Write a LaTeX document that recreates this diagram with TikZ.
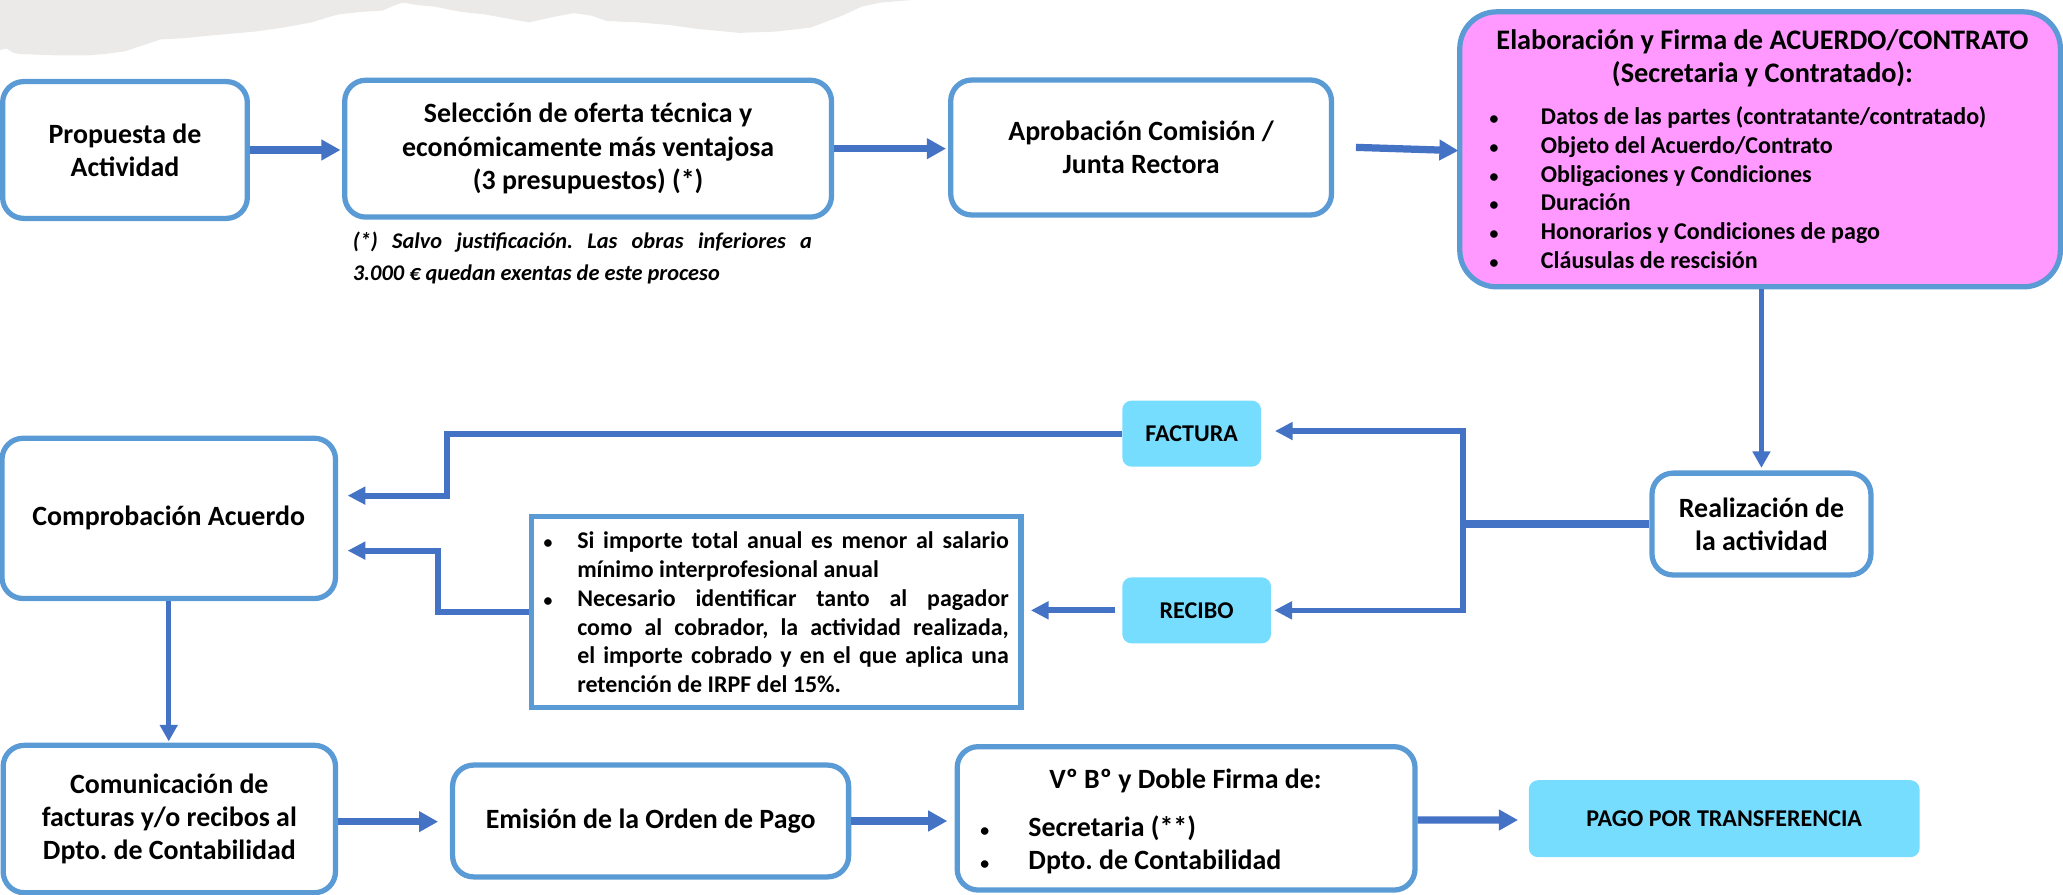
\documentclass[tikz,border=0pt]{standalone}
\usepackage{fontspec}
\setmainfont{Carlito}
\usetikzlibrary{arrows.meta}
\definecolor{arrowblue}{HTML}{4472C4}
\definecolor{boxblue}{HTML}{5B9BD5}
\definecolor{pinkfill}{HTML}{FF99FF}
\definecolor{cyanfill}{HTML}{77DDFF}
\definecolor{paper}{HTML}{EBEAE8}
\frenchspacing
\newcommand\fmain{\bfseries\fontsize{21.2}{25.3}\selectfont}
\newcommand\ftitle{\bfseries\fontsize{21.5}{25.3}\selectfont}
\newcommand\flist{\bfseries\fontsize{18.3}{21.8}\selectfont}
\newcommand\fnote{\bfseries\fontsize{18.2}{22}\selectfont}
\newcommand\ffoot{\bfseries\itshape\fontsize{17}{24}\selectfont}
\newcommand\fsmall{\bfseries\fontsize{18.3}{20}\selectfont}
\newcommand\bul[1]{\makebox[#1][l]{\fontsize{13.5}{13.5}\selectfont•}}
\begin{document}
\begin{tikzpicture}[x=1pt,y=-1pt,
  box/.style={draw=boxblue, line width=4pt, rounded corners=16pt, fill=white, inner sep=0pt, align=center, font=\fmain},
  tag/.style={fill=cyanfill, rounded corners=7pt, inner sep=0pt, align=center, font=\fsmall},
  txt/.style={inner sep=0pt},
  arr/.style={draw=arrowblue, line width=5.5pt, -{Triangle[length=14.5pt,width=15pt]}},
  carr/.style={draw=arrowblue, line width=4.5pt, -{Triangle[length=13.5pt,width=13pt]}},
  varr/.style={draw=arrowblue, line width=3.8pt, -{Triangle[length=12.5pt,width=13pt]}},
  plain/.style={draw=arrowblue, line width=5.5pt}]
\useasboundingbox (0,0) rectangle (1568,680.2);
% torn paper background
\fill[paper] (0,0) -- (0,38) -- (5,37) -- (10,40) -- (14,41) -- (40,42) -- (68,42) -- (80,41) -- (95,39) -- (110,34) -- (122,30) -- (140,29) -- (160,27) -- (194,24) -- (215,21) -- (237,17) -- (250,13) -- (257,11) -- (275,9) -- (291,8) -- (300,4) -- (306,2) -- (318,4) -- (330,5) -- (350,9) -- (369,11) -- (385,14) -- (402,17) -- (420,13) -- (436,10) -- (450,12) -- (461,16) -- (485,17) -- (509,19) -- (530,22) -- (562,25) -- (590,24) -- (616,21) -- (640,12) -- (655,5) -- (669,2) -- (693,0) -- cycle;

% nodes
\node[box, minimum width=186pt, minimum height=104pt] (prop) at (95,114) {Propuesta de\\Actividad};
\node[box, minimum width=370pt, minimum height=104pt] (sel) at (447,113) {Selección de oferta técnica y\\económicamente más ventajosa\\(3 presupuestos) (*)};
\node[txt, anchor=west, align=left, font=\ffoot] (foot) at (268,196) {\makebox[349pt][s]{(*) Salvo justificación. Las obras inferiores a}\\3.000 € quedan exentas de este proceso};
\node[box, minimum width=289.4pt, minimum height=102.6pt] (apr) at (867.3,112.1) {Aprobación Comisión /\\Junta Rectora};
\node[box, fill=pinkfill, rounded corners=28pt, minimum width=456.5pt, minimum height=209pt] (elab) at (1337.75,113.5) {};
\node[txt, align=center, font=\ftitle] (elabt) at (1339.5,44.5) {Elaboración y Firma de ACUERDO/CONTRATO\\(Secretaria y Contratado):};
\node[txt, anchor=base west, align=left, font=\flist] (elabl) at (1132,203.8) {\bul{39pt}Datos de las partes (contratante/contratado)\\\bul{39pt}Objeto del Acuerdo/Contrato\\\bul{39pt}Obligaciones y Condiciones\\\bul{39pt}Duración\\\bul{39pt}Honorarios y Condiciones de pago\\\bul{39pt}Cláusulas de rescisión};

\node[box, minimum width=166.4pt, minimum height=77.4pt] (real) at (1338.8,398.3) {Realización de\\la actividad};
\node[tag, minimum width=105.5pt, minimum height=50.2pt] (fact) at (905.75,329.6) {FACTURA};
\node[tag, minimum width=113pt, minimum height=50.2pt] (rec) at (909.5,463.9) {RECIBO};
\node[draw=boxblue, line width=4pt, fill=white, inner sep=0pt, minimum width=372pt, minimum height=145.3pt, align=left, font=\fnote] (note) at (590,465.35) {\bul{25.5pt}\makebox[328pt][s]{Si importe total anual es menor al salario}\\\hspace*{25.5pt}mínimo interprofesional anual\\\bul{25.5pt}\makebox[328pt][s]{Necesario identificar tanto al pagador}\\\hspace*{25.5pt}\makebox[328pt][s]{como al cobrador, la actividad realizada,}\\\hspace*{25.5pt}\makebox[328pt][s]{el importe cobrado y en el que aplica una}\\\hspace*{25.5pt}retención de IRPF del 15\%.};
\node[box, minimum width=253.5pt, minimum height=121.8pt] (comp) at (128.25,394) {Comprobación Acuerdo};

\node[box, minimum width=252.6pt, minimum height=112pt] (comu) at (128.7,622.5) {Comunicación de\\facturas y/o recibos al\\Dpto. de Contabilidad};
\node[box, minimum width=301pt, minimum height=85pt] (emis) at (494.5,624) {Emisión de la Orden de Pago};
\node[box, minimum width=348pt, minimum height=109pt] (vobo) at (901.5,622) {};
\node[txt, anchor=base, font=\fmain] (vobot) at (901,599.5) {Vº Bº y Doble Firma de:};
\node[txt, anchor=base west, align=left, font=\fmain] (vobol) at (745,661) {\bul{36.5pt}Secretaria (**)\\\bul{36.5pt}Dpto. de Contabilidad};
\node[tag, minimum width=297pt, minimum height=58.5pt] (pago) at (1310.5,622.25) {PAGO POR TRANSFERENCIA};

% connectors
\draw[arr] (prop.east) -- ([xshift=-1.2pt]sel.west |- prop.east);
\draw[arr] (sel.east) -- ([xshift=-1.6pt]apr.west |- sel.east);
\coordinate (a3) at (1030.6,112);
\draw[arr] (a3) -- ([xshift=1pt,yshift=-1pt]elab.west);
\draw[varr] (elab.south -| real.north) -- ([yshift=2pt]real.north);
\coordinate (j) at (1112,398.3);
\draw[plain] (real.west) -- (j);
\draw[carr, line width=4pt] (j) |- ([xshift=10.3pt,yshift=2pt]fact.east);
\draw[carr, line width=4pt] (j) |- ([xshift=2.3pt]rec.east);
\draw[carr] ([xshift=-5.5pt]rec.west) -- ([xshift=5.5pt]note.east |- rec.west);
\coordinate (b1) at (339.5,329.6);
\coordinate (b2) at (339.5,376.7);
\draw[carr] (fact.west) -- (b1) -- (b2) -- ([xshift=7.2pt,yshift=17.3pt]comp.east);
\coordinate (b3) at (333,465.35);
\coordinate (b4) at (333,418.5);
\draw[carr] (note.west) -- (b3) -- (b4) -- ([xshift=7.2pt,yshift=-24.5pt]comp.east);
\draw[varr] (comp.south) -- ([yshift=1pt]comp.south |- comu.north);
\draw[arr] ([yshift=-2pt]comu.east) -- ([xshift=-9pt]emis.west |- 0,624.5);
\draw[arr] (emis.east) -- ([xshift=-5.5pt]vobo.west |- emis.east);
\draw[arr] ([yshift=-1.3pt]vobo.east) -- ([xshift=-8pt,yshift=-1pt]pago.west);
\end{tikzpicture}
\end{document}
